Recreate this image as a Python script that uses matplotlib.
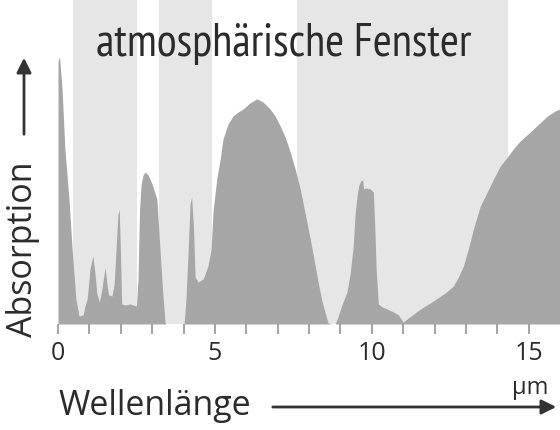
import matplotlib
matplotlib.use('Agg')
from matplotlib import pyplot as plt
from matplotlib import font_manager as fm

# wavelength in micrometre and absorption (first peak = 100)
wavelength = [0, 0, 0.05, 0.13, 0.22, 0.35, 0.45, 0.57, 0.67, 0.80,
              0.86, 0.93, 1.02, 1.11, 1.18, 1.24, 1.32, 1.40, 1.50, 1.56,
              1.61, 1.72, 1.79, 1.85, 1.91, 1.95, 1.98, 2.03, 2.14, 2.30,
              2.50, 2.55, 2.60, 2.65, 2.71, 2.78, 2.87, 3.00, 3.15, 3.25,
              3.33, 3.41, 3.44, 4.02, 4.08, 4.15, 4.21, 4.26, 4.32, 4.37,
              4.47, 4.63, 4.78, 4.88, 4.94, 5.06, 5.17, 5.26, 5.42, 5.58,
              5.74, 5.90, 6.12, 6.34, 6.54, 6.76, 6.92, 7.08, 7.24, 7.40,
              7.56, 7.72, 7.88, 8.04, 8.17, 8.29, 8.42, 8.57, 8.61, 8.71,
              8.83, 8.90, 9.06, 9.21, 9.31, 9.41, 9.47, 9.53, 9.59, 9.65,
              9.71, 9.74, 9.82, 9.95, 10.05, 10.10, 10.14, 10.21, 10.33, 10.49,
              10.69, 10.85, 11.00, 11.16, 11.55, 11.96, 12.34, 12.60, 12.76, 12.92,
              13.08, 13.24, 13.46, 13.68, 13.88, 14.10, 14.32, 14.51, 14.73, 15.05,
              15.36, 15.60, 15.85, 16.0]
absorption = [0, 98.5, 100, 88, 65.5, 46.8, 28.1, 9.4, 3.0, 3.4,
              6.7, 9.4, 20.6, 25.5, 18.7, 11.2, 8.2, 13.1, 21.3, 15.0,
              10.9, 10.5, 15, 28, 41, 43, 31.8, 7.5, 7.1, 7.5,
              6.7, 16.9, 43, 52.4, 55.8, 56.9, 55.8, 52.4, 46.8, 28.1,
              13.1, 0.7, 0, 0, 9.4, 28, 45, 47.6, 35.6, 17.6,
              15.7, 16.9, 21.7, 28, 42, 54.3, 61.8, 69.3, 74.9, 77.9,
              79.4, 80.5, 82.8, 84.3, 83.1, 80.5, 77.9, 74.2, 70, 64.4,
              58, 50.6, 41.2, 31.8, 23.6, 15.7, 8.2, 1.9, 0.4, 0,
              0, 1.9, 7.5, 12, 18.7, 29.2, 41.2, 47.9, 52, 53.6,
              53.9, 50.6, 50.9, 50.6, 49.4, 35.6, 20.6, 7.5, 6.4, 5.6,
              4.5, 3.4, 0.7, 2.2, 5.6, 8.6, 11.6, 14.2, 17.6, 21.7,
              28.1, 35.6, 44.2, 49.4, 54.3, 59.2, 62.5, 65.5, 68.5, 71.9,
              75.3, 77.9, 79.8, 80.5]

# atmospheric windows (start, end) in micrometre
windows = [(0.48, 2.52), (3.22, 4.91), (7.62, 14.35)]

tick_pos = list(range(16))
tick_labels = ['0', '', '', '', '', '5', '', '', '', '', '10', '', '', '', '', '15']

# Source Sans looks like the original, but only if a proper (non-light) face is there
src = fm.findfont(fm.FontProperties(family='Source Sans 3', weight='semibold'), fallback_to_default=False)
if 'Light' in src or 'wght' in src or 'DejaVu' in src:
    main_font, fs = 'Open Sans', 1.0
else:
    main_font, fs = 'Source Sans 3', 1.08
plt.rcParams['font.family'] = [main_font, 'DejaVu Sans']
plt.rcParams['font.weight'] = 'semibold' if main_font == 'Source Sans 3' else 'normal'
text_col = '#2b2b2b'

W, H = 560, 431
fig = plt.figure(figsize=(W / 100, H / 100), dpi=100)
ax = fig.add_axes([58 / W, 106 / H, 502 / W, 325 / H])

for a, b in windows:
    ax.axvspan(a, b, color='#e6e6e6', lw=0)
ax.fill_between(wavelength, absorption, 0, color='#a6a6a6', lw=0)

ax.set_xlim(0, 16)
ax.set_ylim(0, 121.7)
for s in ax.spines.values():
    s.set_visible(False)
ax.set_yticks([])
ax.set_xticks(tick_pos)
ax.set_xticklabels(tick_labels)
ax.tick_params(axis='x', direction='out', length=7.2, width=1.1, color='#8c8c8c',
               labelsize=18 * fs, labelcolor=text_col, pad=4)

fig.text(284 / W, 1 - 56 / H, 'atmosphärische Fenster', ha='center', va='baseline',
         fontsize=33, color=text_col, family=['PT Sans Narrow', 'DejaVu Sans'], weight='normal')
fig.text(58 / W, 1 - 415 / H, 'Wellenlänge', ha='left', va='baseline',
         fontsize=24.5 * fs, color=text_col)
fig.text(32 / W, 1 - 337 / H, 'Absorption', ha='left', va='baseline', rotation=90,
         rotation_mode='anchor', fontsize=24.5 * fs, color=text_col)
fig.text(530 / W, 1 - 394 / H, 'µm', ha='center', va='baseline',
         fontsize=17 * fs, color=text_col)

ax.annotate('', xy=(559 / W, 1 - 408 / H), xytext=(270 / W, 1 - 408 / H),
            xycoords='figure fraction', textcoords='figure fraction', annotation_clip=False,
            arrowprops=dict(arrowstyle='-|>', color='#333333', lw=2, mutation_scale=22))
ax.annotate('', xy=(24 / W, 1 - 56 / H), xytext=(24 / W, 1 - 138 / H),
            xycoords='figure fraction', textcoords='figure fraction', annotation_clip=False,
            arrowprops=dict(arrowstyle='-|>', color='#333333', lw=2, mutation_scale=22))

fig.savefig('out.png', dpi=100)
